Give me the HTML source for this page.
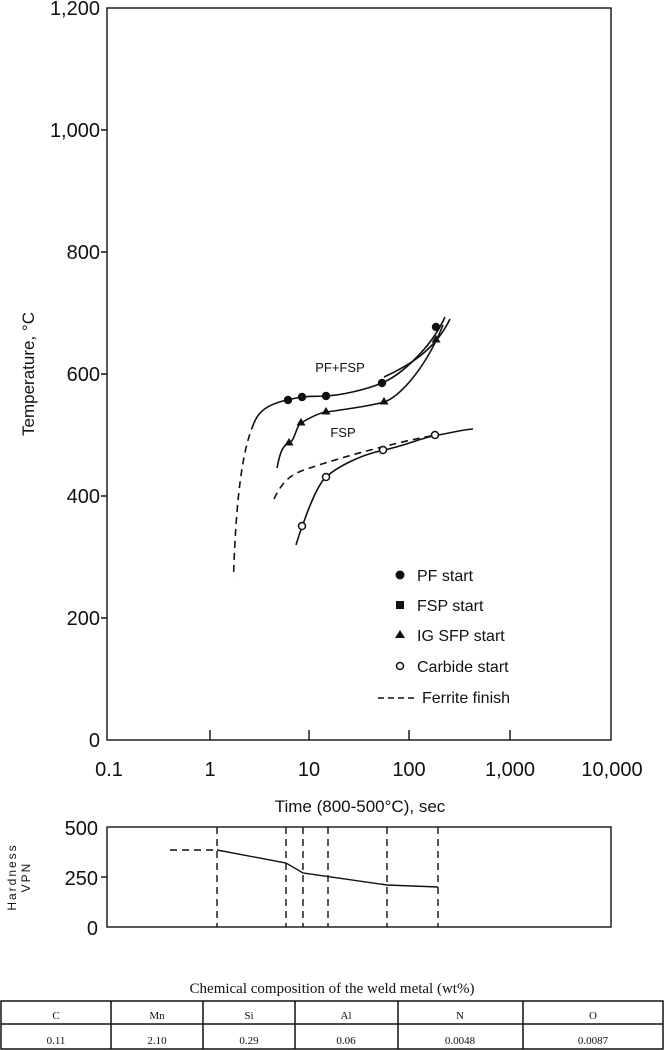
<!DOCTYPE html>
<html><head><meta charset="utf-8"><style>
body{margin:0;background:#fff;}
svg{display:block;font-family:"Liberation Sans",Arial,sans-serif;}
</style></head><body>
<svg width="664" height="1050" viewBox="0 0 664 1050" xmlns="http://www.w3.org/2000/svg">
<g stroke="#111" fill="none" stroke-width="1.4">
<rect x="107" y="8" width="504" height="732"/>
<path d="M101 130H107M101 252H107M101 374H107M101 496H107M101 618H107"/>
<path d="M210 740V730M309 740V730M409 740V730M510 740V730"/>
</g>
<g font-size="20" fill="#111" text-anchor="end">
<text x="100" y="15">1,200</text><text x="100" y="137">1,000</text><text x="100" y="259">800</text>
<text x="100" y="381">600</text><text x="100" y="503">400</text><text x="100" y="625">200</text><text x="100" y="747">0</text>
</g>
<g font-size="20" fill="#111" text-anchor="middle">
<text x="109" y="776">0.1</text><text x="210" y="776">1</text><text x="309" y="776">10</text>
<text x="409" y="776">100</text><text x="510" y="776">1,000</text><text x="612" y="776">10,000</text>
</g>
<text x="360" y="812" font-size="17" text-anchor="middle" fill="#111">Time (800-500°C), sec</text>
<text transform="translate(34,374) rotate(-90)" font-size="17" text-anchor="middle" fill="#111">Temperature, °C</text>
<!-- curves -->
<g stroke="#111" fill="none" stroke-width="1.6">
<path d="M254 423 C258 413 265 405 287 400 S310 397 326 396 S365 390 382 383 S430 350 445 317"/>
<path d="M384 377 C410 365 435 350 450 319"/>
<path d="M277 468 C280 452 283 445 289 443 S296 426 301 423 S318 413 326 412 S370 406 384 402 S425 370 443 325"/>
<path d="M296 545 C299 535 300 532 302 527 S315 487 326 477 S360 455 384 450 S420 438 438 435 S460 430 473 429"/>
</g>
<g stroke="#111" fill="none" stroke-width="1.6" stroke-dasharray="7,5">
<path d="M254 423 C242 450 236 500 233.5 577"/>
<path d="M274 499 C282 482 290 475 304 470 S350 455 382 447 S420 438 436 435"/>
</g>
<g fill="#111">
<circle cx="288" cy="400" r="4.2"/><circle cx="302" cy="397" r="4.2"/><circle cx="326" cy="396" r="4.2"/><circle cx="382" cy="383" r="4.2"/><circle cx="436" cy="327" r="4.2"/>
<path d="M289 438l4.5 7.5h-9z"/><path d="M301 418l4.5 7.5h-9z"/><path d="M326 407l4.5 7.5h-9z"/><path d="M384 397l4.5 7.5h-9z"/><path d="M436 335l4.5 7.5h-9z"/>
</g>
<g fill="#fff" stroke="#111" stroke-width="1.5">
<circle cx="302" cy="526" r="3.5"/><circle cx="326" cy="477" r="3.5"/><circle cx="383" cy="450" r="3.5"/><circle cx="435" cy="435" r="3.5"/>
</g>
<text x="340" y="372" font-size="13" fill="#111" text-anchor="middle">PF+FSP</text>
<text x="343" y="437" font-size="13" fill="#111" text-anchor="middle">FSP</text>
<!-- legend -->
<g fill="#111" font-size="16">
<circle cx="400" cy="575" r="4.5"/><text x="417" y="581">PF start</text>
<rect x="396" y="601" width="8" height="8"/><text x="417" y="611">FSP start</text>
<path d="M400 630l5 8h-10z"/><text x="417" y="641">IG SFP start</text>
<circle cx="400" cy="666" r="3.5" fill="#fff" stroke="#111" stroke-width="1.5"/><text x="417" y="672">Carbide start</text>
<path d="M378 698H414" stroke="#111" stroke-width="1.5" stroke-dasharray="6,4"/><text x="422" y="703">Ferrite finish</text>
</g>
<!-- hardness -->
<g stroke="#111" fill="none" stroke-width="1.4">
<rect x="107" y="827" width="504" height="100"/>
<path d="M101 877H107"/>
<path d="M217 827V927M286 827V927M303 827V927M328 827V927M387 827V927M438 827V927" stroke-dasharray="7,5"/>
<path d="M170 850H217" stroke-dasharray="7,5"/>
<path d="M217 850L286 863L303 873L387 885L438 887"/>
</g>
<g font-size="20" fill="#111" text-anchor="end">
<text x="98" y="835">500</text><text x="98" y="885">250</text><text x="98" y="935">0</text>
</g>
<text transform="translate(16,877) rotate(-90)" font-size="12" letter-spacing="2" text-anchor="middle" fill="#111">Hardness</text>
<text transform="translate(30,877) rotate(-90)" font-size="12" letter-spacing="2" text-anchor="middle" fill="#111">VPN</text>
<!-- table -->
<text x="332" y="993" font-family="Liberation Serif,serif" font-size="15" text-anchor="middle" fill="#111">Chemical composition of the weld metal (wt%)</text>
<g stroke="#111" fill="none" stroke-width="1.5">
<rect x="1" y="1001" width="662" height="48"/>
<path d="M1 1024H663M111 1001V1049M203 1001V1049M295 1001V1049M398 1001V1049M523 1001V1049"/>
</g>
<g font-family="Liberation Serif,serif" font-size="11" fill="#111" text-anchor="middle">
<text x="56" y="1019">C</text><text x="157" y="1019">Mn</text><text x="249" y="1019">Si</text><text x="346" y="1019">Al</text><text x="460" y="1019">N</text><text x="593" y="1019">O</text>
<text x="56" y="1044">0.11</text><text x="157" y="1044">2.10</text><text x="249" y="1044">0.29</text><text x="346" y="1044">0.06</text><text x="460" y="1044">0.0048</text><text x="593" y="1044">0.0087</text>
</g>
</svg>
</body></html>
